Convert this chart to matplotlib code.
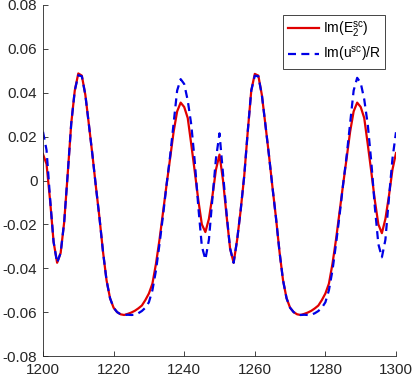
import matplotlib
matplotlib.use("Agg")
import matplotlib.pyplot as plt
import numpy as np

x_vals = list(range(1200, 1301))

red_vals = [
    0.0120, 0.0075, -0.0090, -0.0280, -0.0375, -0.0330, -0.0190, 0.0030, 0.0260, 0.0410,
    0.0488, 0.0478, 0.0390, 0.0255, 0.0117, -0.0030, -0.0170, -0.0325, -0.0455, -0.0537,
    -0.0580, -0.0600, -0.0610, -0.0613, -0.0608, -0.0602, -0.0594, -0.0583, -0.0570, -0.0545,
    -0.0515, -0.0470, -0.0380, -0.0270, -0.0145, -0.0020, 0.0100, 0.0222, 0.0315, 0.0355,
    0.0335, 0.0285, 0.0165, 0.0040, -0.0090, -0.0200, -0.0235, -0.0175, -0.0070, 0.0050,
    0.0118, 0.0000, -0.0160, -0.0310, -0.0375, -0.0270, -0.0135, 0.0020, 0.0223, 0.0410,
    0.0486, 0.0478, 0.0390, 0.0255, 0.0117, -0.0030, -0.0170, -0.0325, -0.0455, -0.0537,
    -0.0580, -0.0600, -0.0610, -0.0613, -0.0608, -0.0602, -0.0594, -0.0583, -0.0570, -0.0545,
    -0.0515, -0.0470, -0.0380, -0.0270, -0.0145, -0.0020, 0.0100, 0.0222, 0.0315, 0.0355,
    0.0335, 0.0285, 0.0165, 0.0040, -0.0090, -0.0200, -0.0240, -0.0175, -0.0070, 0.0050,
    0.0125,
]

blue_vals = [
    0.0222, 0.0139, -0.0080, -0.0280, -0.0375, -0.0330, -0.0190, 0.0030, 0.0260, 0.0410,
    0.0480, 0.0475, 0.0390, 0.0255, 0.0117, -0.0030, -0.0170, -0.0325, -0.0455, -0.0537,
    -0.0580, -0.0600, -0.0610, -0.0613, -0.0612, -0.0613, -0.0612, -0.0605, -0.0595, -0.0580,
    -0.0555, -0.0500, -0.0410, -0.0290, -0.0160, -0.0020, 0.0110, 0.0260, 0.0410, 0.0462,
    0.0440, 0.0365, 0.0255, 0.0085, -0.0120, -0.0300, -0.0360, -0.0270, -0.0080, 0.0100,
    0.0215, 0.0030, -0.0150, -0.0310, -0.0375, -0.0270, -0.0135, 0.0020, 0.0223, 0.0410,
    0.0478, 0.0475, 0.0390, 0.0255, 0.0117, -0.0030, -0.0170, -0.0325, -0.0455, -0.0537,
    -0.0580, -0.0600, -0.0610, -0.0613, -0.0612, -0.0613, -0.0612, -0.0605, -0.0595, -0.0580,
    -0.0555, -0.0500, -0.0410, -0.0290, -0.0160, -0.0020, 0.0110, 0.0260, 0.0410, 0.0468,
    0.0445, 0.0370, 0.0255, 0.0085, -0.0120, -0.0290, -0.0350, -0.0270, -0.0080, 0.0100,
    0.0220,
]

x_ticks = [1200, 1220, 1240, 1260, 1280, 1300]
y_ticks = [-0.08, -0.06, -0.04, -0.02, 0, 0.02, 0.04, 0.06, 0.08]
y_tick_labels = ["-0.08", "-0.06", "-0.04", "-0.02", "0", "0.02", "0.04", "0.06", "0.08"]
legend_labels = [r"Im(E$_2^{\rm sc}$)", r"Im(u$^{\rm sc}$)/R"]

plt.rcParams['font.family'] = ['Liberation Sans', 'DejaVu Sans']
plt.rcParams['mathtext.fontset'] = 'custom'
plt.rcParams['mathtext.rm'] = 'Liberation Sans'

fig = plt.figure(figsize=(4.13, 3.80), dpi=100)
ax = fig.add_axes([43 / 413, 24 / 380, 353 / 413, 351 / 380])

ax.plot(x_vals, red_vals, color='#e00000', lw=1.6, label=legend_labels[0])
ax.plot(x_vals, blue_vals, color='#0000e6', lw=1.6, linestyle=(0, (3.6, 2.4)),
        label=legend_labels[1])

ax.set_xlim(1200, 1300)
ax.set_ylim(-0.08, 0.08)
ax.set_xticks(x_ticks)
ax.set_xticklabels([str(t) for t in x_ticks])
ax.set_yticks(y_ticks)
ax.set_yticklabels(y_tick_labels)

for s in ['top', 'right']:
    ax.spines[s].set_visible(False)
for s in ['left', 'bottom']:
    ax.spines[s].set_color('#262626')
    ax.spines[s].set_linewidth(0.6)
ax.tick_params(direction='in', length=3.5, width=0.6, color='#262626',
               labelcolor='#262626', labelsize=11)
ax.tick_params(axis='x', pad=5)
ax.tick_params(axis='y', pad=4)

leg = ax.legend(loc='upper right', bbox_to_anchor=(0.97, 0.972), fontsize=10,
                frameon=True, fancybox=False, edgecolor='#262626', framealpha=1,
                handlelength=2.2, handletextpad=0.3, borderpad=0.35,
                labelspacing=0.4, borderaxespad=0)
leg.get_frame().set_linewidth(0.6)

fig.savefig('out.png', dpi=100)
